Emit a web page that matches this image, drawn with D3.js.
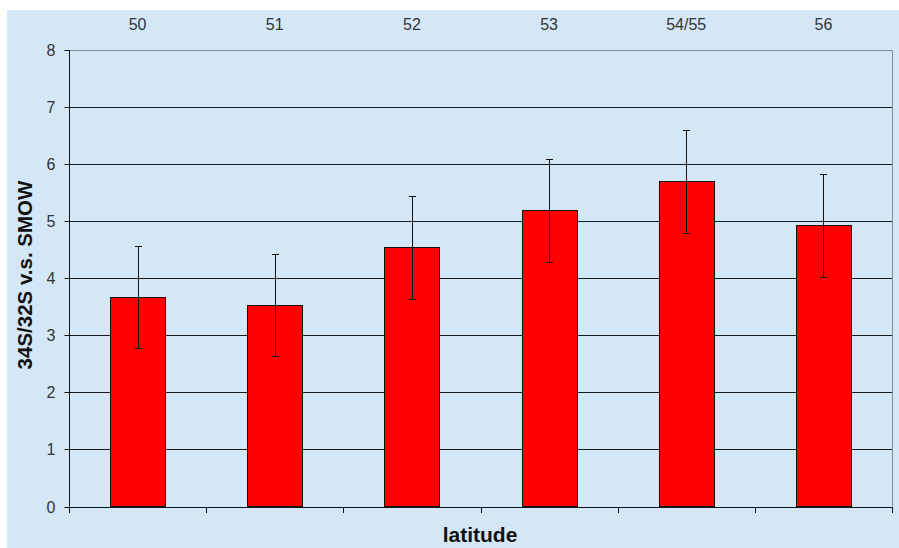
<!DOCTYPE html>
<html><head><meta charset="utf-8">
<script src="https://cdn.jsdelivr.net/npm/d3@7"></script>
<style>html,body{margin:0;padding:0;background:#fff;}svg{display:block;}</style>
</head><body>
<svg id="c" width="899" height="548"></svg>
<script>
const categories = ["50", "51", "52", "53", "54/55", "56"];
const values = [3.67, 3.53, 4.54, 5.19, 5.70, 4.93];
const errors = [0.90, 0.90, 0.91, 0.90, 0.90, 0.90];
const yTicks = [0, 1, 2, 3, 4, 5, 6, 7, 8];

const svg = d3.select("#c");
const L = 69, R = 892, T = 50, B = 506.5;
const font = "'Liberation Sans', Arial, sans-serif";

svg.append("rect").attr("x", 7).attr("y", 10).attr("width", 892).attr("height", 538).attr("fill", "#D4E7F6");

const x = d3.scaleBand().domain(categories).range([L, R]).paddingInner(0).paddingOuter(0);
const y = d3.scaleLinear().domain([0, 8]).range([B, T]);
const bw = x.bandwidth() * 0.4;

// gridlines
svg.append("g").selectAll("line").data(yTicks.filter(d => d > 0 && d < 8)).join("line")
  .attr("x1", L).attr("x2", R)
  .attr("y1", d => Math.round(y(d)) + 0.5).attr("y2", d => Math.round(y(d)) + 0.5)
  .attr("stroke", "#1a1a1a").attr("stroke-width", 1);

// plot border top & right
svg.append("path").attr("d", `M${L},${Math.round(T)+0.5}H${R+0.5}V${B}`)
  .attr("fill", "none").attr("stroke", "#8a8a8a").attr("stroke-width", 1);

// bars
svg.append("g").selectAll("rect").data(values).join("rect")
  .attr("x", (d, i) => Math.round(x(categories[i]) + x.bandwidth() / 2 - bw / 2) + 0.5)
  .attr("width", Math.round(bw))
  .attr("y", d => Math.round(y(d)) + 0.5)
  .attr("height", d => B - Math.round(y(d)) - 0.5)
  .attr("fill", "#FF0000").attr("stroke", "#111").attr("stroke-width", 1);

// error bars
const eg = svg.append("g").attr("stroke", "#111").attr("stroke-width", 1);
values.forEach((v, i) => {
  const cx = Math.round(x(categories[i]) + x.bandwidth() / 2) + 0.5;
  const y1 = Math.round(y(v + errors[i])) + 0.5, y0 = Math.round(y(v - errors[i])) + 0.5;
  eg.append("line").attr("x1", cx).attr("x2", cx).attr("y1", y1).attr("y2", y0);
  eg.append("line").attr("x1", cx - 3.5).attr("x2", cx + 3.5).attr("y1", y1).attr("y2", y1);
  eg.append("line").attr("x1", cx - 3.5).attr("x2", cx + 3.5).attr("y1", y0).attr("y2", y0);
});

// y axis
const ya = svg.append("g").attr("transform", `translate(${L + 0.5},0)`)
  .call(d3.axisLeft(y).tickValues(yTicks).tickSize(5).tickPadding(9).tickFormat(d3.format("d")));
ya.select(".domain").attr("stroke", "#111").attr("d", `M0,${T}V${B}`);
ya.selectAll(".tick line").attr("stroke", "#111");
ya.selectAll(".tick text").attr("font-family", font).attr("font-size", 16).attr("fill", "#333");
ya.selectAll(".tick").attr("transform", d => `translate(0,${Math.round(y(d)) + 0.5})`);

// bottom axis (category boundaries)
const bounds = categories.map(c => x(c)).concat([R]);
const xa = svg.append("g");
xa.append("line").attr("x1", L).attr("x2", R + 0.5).attr("y1", Math.round(B) + 0.5).attr("y2", Math.round(B) + 0.5).attr("stroke", "#111");
xa.selectAll("line.t").data(bounds).join("line").attr("class", "t")
  .attr("x1", d => Math.round(d) + 0.5).attr("x2", d => Math.round(d) + 0.5)
  .attr("y1", Math.round(B)).attr("y2", Math.round(B) + 6).attr("stroke", "#111");

// top category labels
svg.append("g").selectAll("text").data(categories).join("text")
  .attr("x", d => x(d) + x.bandwidth() / 2).attr("y", 30)
  .attr("text-anchor", "middle").attr("font-family", font).attr("font-size", 16).attr("fill", "#333")
  .text(d => d);

// titles
svg.append("text").attr("x", 480).attr("y", 542).attr("text-anchor", "middle")
  .attr("font-family", font).attr("font-weight", "bold").attr("font-size", 21).attr("fill", "#111")
  .text("latitude");
svg.append("text").attr("transform", "translate(32,275) rotate(-90)").attr("text-anchor", "middle")
  .attr("font-family", font).attr("font-weight", "bold").attr("font-size", 20.5).attr("fill", "#111")
  .text("34S/32S v.s. SMOW");
</script>
</body></html>
